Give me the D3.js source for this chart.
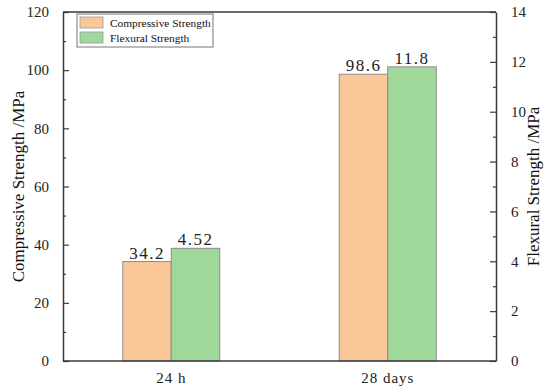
<!DOCTYPE html>
<html>
<head>
<meta charset="utf-8">
<script src="https://cdn.jsdelivr.net/npm/d3@7"></script>
</head>
<body style="margin:0;background:#fff">
<script>
// data
const categories = ["24 h", "28 days"];
const seriesNames = ["Compressive Strength", "Flexural Strength"];
const compressive = [34.2, 98.6];
const flexural = [4.52, 11.8];
const leftTicks = [0, 20, 40, 60, 80, 100, 120];
const rightTicks = [0, 2, 4, 6, 8, 10, 12, 14];

const width = 550, height = 387;
const margin = { top: 12, right: 54, bottom: 26, left: 63 };
const innerW = width - margin.left - margin.right;
const innerH = height - margin.top - margin.bottom;
const colors = ["#fac898", "#a0d89c"];
const axisColor = "#3a3a3a";
const serif = "Liberation Serif";

const svg = d3.select("body").append("svg")
    .attr("width", width)
    .attr("height", height)
    .attr("font-family", serif);

const g = svg.append("g")
    .attr("transform", "translate(" + margin.left + "," + margin.top + ")");

const x = d3.scaleBand()
    .domain(categories)
    .range([0, innerW])
    .paddingInner(0)
    .paddingOuter(0);

const yL = d3.scaleLinear().domain([0, 120]).range([innerH, 0]);
const yR = d3.scaleLinear().domain([0, 14]).range([innerH, 0]);

const barW = 48.5;

// bars
const rows = categories.map((c, i) => ({ cat: c, comp: compressive[i], flex: flexural[i] }));

g.selectAll(".bar-comp")
    .data(rows)
    .enter()
    .append("rect")
    .attr("class", "bar-comp")
    .attr("x", d => x(d.cat) + x.bandwidth() / 2 - barW)
    .attr("y", d => yL(d.comp))
    .attr("width", barW)
    .attr("height", d => innerH - yL(d.comp))
    .attr("fill", colors[0])
    .attr("stroke", "#8c8c8c")
    .attr("stroke-width", 1);

g.selectAll(".bar-flex")
    .data(rows)
    .enter()
    .append("rect")
    .attr("class", "bar-flex")
    .attr("x", d => x(d.cat) + x.bandwidth() / 2)
    .attr("y", d => yR(d.flex))
    .attr("width", barW)
    .attr("height", d => innerH - yR(d.flex))
    .attr("fill", colors[1])
    .attr("stroke", "#8c8c8c")
    .attr("stroke-width", 1);

// value labels
g.selectAll(".lbl-comp")
    .data(rows)
    .enter()
    .append("text")
    .attr("x", d => x(d.cat) + x.bandwidth() / 2 - barW / 2)
    .attr("y", d => yL(d.comp) - 3)
    .attr("text-anchor", "middle")
    .style("font-family", serif)
    .style("font-size", "17px")
    .style("letter-spacing", "1.5px")
    .attr("fill", "#222")
    .text(d => d.comp);

g.selectAll(".lbl-flex")
    .data(rows)
    .enter()
    .append("text")
    .attr("x", d => x(d.cat) + x.bandwidth() / 2 + barW / 2)
    .attr("y", d => yR(d.flex) - 3)
    .attr("text-anchor", "middle")
    .style("font-family", serif)
    .style("font-size", "17px")
    .style("letter-spacing", "1.5px")
    .attr("fill", "#222")
    .text(d => d.flex);

// frame lines (top and bottom)
g.append("line")
    .attr("x1", 0).attr("x2", innerW).attr("y1", 0).attr("y2", 0)
    .attr("stroke", axisColor).attr("stroke-width", 1.5);
g.append("line")
    .attr("x1", 0).attr("x2", innerW).attr("y1", innerH).attr("y2", innerH)
    .attr("stroke", axisColor).attr("stroke-width", 1.5);

// axes
function styleAxis(sel) {
    sel.attr("font-family", serif).attr("font-size", 15);
    sel.select(".domain").attr("stroke", axisColor).attr("stroke-width", 1.5);
    sel.selectAll(".tick line").attr("stroke", axisColor).attr("stroke-width", 1.2);
    sel.selectAll(".tick text")
        .style("font-family", serif)
        .style("font-size", "15px")
        .attr("fill", "#222");
}

const minorL = d3.range(10, 120, 20);
const minorR = d3.range(1, 14, 2);

g.append("g")
    .call(d3.axisLeft(yL).tickValues(minorL).tickSize(-3).tickFormat(""))
    .call(s => s.select(".domain").remove())
    .selectAll("line").attr("stroke", axisColor).attr("stroke-width", 1.2);

g.append("g")
    .attr("transform", "translate(" + innerW + ",0)")
    .call(d3.axisRight(yR).tickValues(minorR).tickSize(-3).tickFormat(""))
    .call(s => s.select(".domain").remove())
    .selectAll("line").attr("stroke", axisColor).attr("stroke-width", 1.2);

g.append("g")
    .call(d3.axisLeft(yL).tickValues(leftTicks).tickSize(-6).tickSizeOuter(0).tickPadding(14))
    .call(styleAxis);

g.append("g")
    .attr("transform", "translate(" + innerW + ",0)")
    .call(d3.axisRight(yR).tickValues(rightTicks).tickSize(-6).tickSizeOuter(0).tickPadding(15))
    .call(styleAxis);

const xAxis = g.append("g")
    .attr("transform", "translate(0," + innerH + ")")
    .call(d3.axisBottom(x).tickSize(0).tickPadding(11))
    .attr("font-family", serif)
    .attr("font-size", 15);
xAxis.select(".domain").remove();
xAxis.selectAll(".tick text")
    .style("font-family", serif)
    .style("font-size", "15px")
    .style("letter-spacing", "1px")
    .attr("fill", "#222");

// axis titles
svg.append("text")
    .attr("transform", "translate(24," + (margin.top + innerH / 2) + ") rotate(-90)")
    .attr("text-anchor", "middle")
    .style("font-family", serif)
    .style("font-size", "17px")
    .attr("fill", "#111")
    .text("Compressive Strength /MPa");

svg.append("text")
    .attr("transform", "translate(539," + (margin.top + innerH / 2) + ") rotate(-90)")
    .attr("text-anchor", "middle")
    .style("font-family", serif)
    .style("font-size", "17px")
    .attr("fill", "#111")
    .text("Flexural Strength /MPa");

// legend
const legend = svg.append("g").attr("transform", "translate(77,14)");
legend.append("rect")
    .attr("width", 136).attr("height", 33)
    .attr("fill", "#fff")
    .attr("stroke", "#8c8c8c").attr("stroke-width", 1.2);

const items = legend.selectAll(".item")
    .data(seriesNames)
    .enter()
    .append("g")
    .attr("transform", (d, i) => "translate(3," + (3 + i * 15) + ")");

items.append("rect")
    .attr("width", 23).attr("height", 11)
    .attr("fill", (d, i) => colors[i])
    .attr("stroke", "#999").attr("stroke-width", 0.8);

const legendText = items.append("text")
    .attr("x", 30).attr("y", 10)
    .style("font-family", serif)
    .style("font-size", "12px")
    .attr("fill", "#111")
    .text(d => d);

// fit the longest legend entry inside the box
const longest = legendText.nodes()[0].getComputedTextLength();
const fitSize = Math.min(12.5, 12 * 101 / longest);
legendText.style("font-size", fitSize + "px");
</script>
</body>
</html>
